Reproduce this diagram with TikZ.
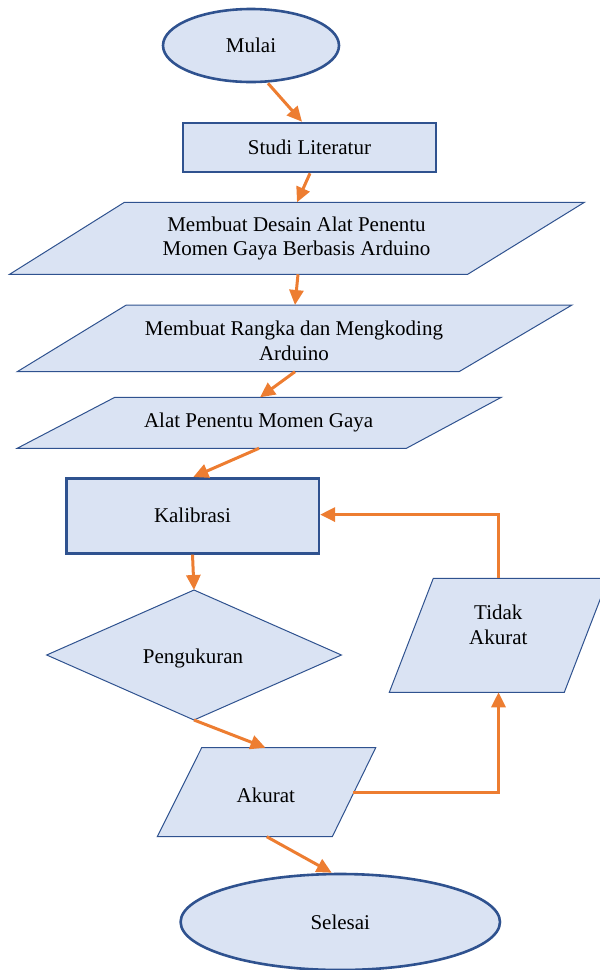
\documentclass[tikz,border=0pt]{standalone}
\usepackage{fontspec}
\setmainfont{Liberation Serif}
\usetikzlibrary{arrows.meta,shapes.geometric}
\definecolor{fillb}{HTML}{DAE3F3}
\definecolor{edgeb}{HTML}{2F528F}
\definecolor{orng}{HTML}{ED7D31}
\begin{document}
\begin{tikzpicture}[x=1pt,y=-1pt,
  bigtext/.style={font=\fontsize{21}{24}\selectfont, align=center, inner sep=0pt},
  smalltext/.style={font=\fontsize{21}{24}\selectfont, align=center, inner sep=0pt},
  thickshape/.style={draw=edgeb, fill=fillb, line width=2.6pt},
  thinshape/.style={draw=edgeb, fill=fillb, line width=1pt, line join=miter},
  flow/.style={draw=orng, line width=3pt, -{Triangle[length=15pt,width=14pt]}}]
\useasboundingbox (0,0) rectangle (600,970);

% terminals and process boxes
\node[ellipse, thickshape, minimum width=176pt, minimum height=73pt, inner sep=0pt, bigtext] (mulai) at (251,45.5) {Mulai};
\node[rectangle, thickshape, minimum width=253pt, minimum height=49pt, inner sep=0pt, bigtext] (studi) at (309.5,147.5) {Studi Literatur};

% parallelograms
\draw[thinshape] (124.4,202.3) -- (584.4,202.3) -- (467.7,274.3) -- (9.6,274.3) -- cycle;
\node[smalltext, font=\fontsize{21}{23.5}\selectfont] (desain) at (296.5,238.5) {Membuat Desain Alat Penentu\\Momen Gaya Berbasis Arduino};
\draw[thinshape] (126.3,305) -- (572,305) -- (459,371.7) -- (17.2,371.7) -- cycle;
\node[smalltext, font=\fontsize{21}{25}\selectfont] (rangka) at (294,340.5) {Membuat Rangka dan Mengkoding\\Arduino};
\draw[thinshape] (114.8,397.3) -- (501.3,397.3) -- (406.4,448.3) -- (17.2,448.3) -- cycle;
\node[smalltext] (alat) at (258.6,422) {Alat Penentu Momen Gaya};

\node[rectangle, thickshape, minimum width=252.6pt, minimum height=75pt, inner sep=0pt, smalltext] (kalibrasi) at (192.5,515.8) {Kalibrasi};

\draw[thinshape] (194,590) -- (341.4,655) -- (194,720) -- (46.7,655) -- cycle;
\node[smalltext] (ukur) at (193,658) {Pengukuran};

\draw[thinshape] (201.7,747.7) -- (375.7,747.7) -- (332.3,836.7) -- (157.3,836.7) -- cycle;
\node[bigtext] (akurat) at (265.8,795) {Akurat};

\draw[thinshape] (433.3,578.3) -- (608.3,578.3) -- (564.3,692.3) -- (389.3,692.3) -- cycle;
\node[smalltext, font=\fontsize{21}{25}\selectfont] (tidak) at (498.3,625) {Tidak\\Akurat};

\node[ellipse, thickshape, minimum width=319.4pt, minimum height=96pt, inner sep=0pt, bigtext] (selesai) at (340.3,922) {Selesai};

% connector end points on the drawn outlines
\coordinate (desainTop) at (297,202.3);
\coordinate (desainBot) at (298,274.3);
\coordinate (rangkaTop) at (295,305);
\coordinate (rangkaBot) at (295,371.7);
\coordinate (alatTop) at (260,397.3);
\coordinate (alatBot) at (259,448.3);
\coordinate (ukurTop) at (194,590);
\coordinate (ukurBot) at (194,720);
\coordinate (akuratTop) at (265.5,747.7);
\coordinate (akuratRight) at (353.3,792.7);
\coordinate (akuratBot) at (266.7,836.7);
\coordinate (tidakTop) at (498.5,578.3);
\coordinate (tidakBot) at (498.5,692.3);

% connectors
\draw[flow] ([xshift=17pt]mulai.south) -- ([xshift=-7.5pt]studi.north);
\draw[flow] ([xshift=0.5pt]studi.south) -- (desainTop);
\draw[flow] (desainBot) -- (rangkaTop);
\draw[flow] (rangkaBot) -- (alatTop);
\draw[flow] (alatBot) -- ([xshift=0.8pt]kalibrasi.north);
\draw[flow] (kalibrasi.south) -- (ukurTop);
\draw[flow] (ukurBot) -- (akuratTop);
\draw[flow] (akuratRight) -| (tidakBot);
\draw[flow] (tidakTop) |- ([yshift=1.2pt]kalibrasi.east);
\draw[flow] (akuratBot) -- ([xshift=-8.6pt]selesai.north);
\end{tikzpicture}
\end{document}
